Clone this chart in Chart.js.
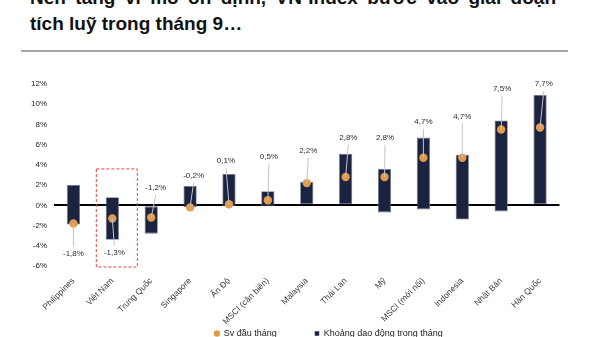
<!DOCTYPE html>
<html>
<head>
<meta charset="utf-8">
<script src="https://cdn.jsdelivr.net/npm/chart.js@4.4.1/dist/chart.umd.min.js"></script>
<style>
  html, body { margin: 0; padding: 0; background: #fff; }
  body { width: 600px; height: 337px; overflow: hidden; position: relative; }
  .title {
    position: absolute; left: 30px;
    font: bold 19px 'Liberation Sans', Arial, sans-serif; line-height: 26px;
    color: #111; white-space: nowrap;
  }
  #t1 { top: -15px; width: 526px; text-align: justify; text-align-last: justify; white-space: normal; }
  #t2 { top: 11px; }
  #rule { position: absolute; left: 21px; top: 50px; width: 547px; height: 2px; background: #a6a6a6; }
  #wrap { position: absolute; left: 0; top: 0; width: 600px; height: 385px; }
</style>
</head>
<body>
<div class="title" id="t1">Nền tảng vĩ mô ổn định, VN-Index bước vào giai đoạn</div>
<div class="title" id="t2">tích luỹ trong tháng 9…</div>
<div id="rule"></div>
<div id="wrap"><canvas id="chart"></canvas></div>
<script>
// categories and values (%)
var countries = ['Philippines', 'Việt Nam', 'Trung Quốc', 'Singapore', 'Ấn Độ', 'MSCI (cận biên)',
  'Malaysia', 'Thái Lan', 'Mỹ', 'MSCI (mới nổi)', 'Indonesia', 'Nhật Bản', 'Hàn Quốc'];
var startOfMonth = [-1.8, -1.3, -1.2, -0.2, 0.1, 0.5, 2.2, 2.8, 2.8, 4.7, 4.7, 7.5, 7.7];
var rangeLow = [-1.9, -3.4, -2.8, -0.2, -0.1, -0.1, 0, 0, -0.7, -0.4, -1.4, -0.6, 0];
var rangeHigh = [2.0, 0.8, 0, 1.9, 3.1, 1.4, 2.3, 5.1, 3.6, 6.7, 5.0, 8.4, 10.9];
var yTicks = [-6, -4, -2, 0, 2, 4, 6, 8, 10, 12];

var FONT = "'Liberation Sans', Arial, sans-serif";

function pct(v) {
  return v.toFixed(1).replace('.', ',') + '%';
}

// value labels with leader lines, and the dashed box round Viet Nam
var notes = {
  id: 'notes',
  afterDatasetsDraw: function(chart, args, opts) {
    var ctx = chart.ctx;
    var y = chart.scales.y, x = chart.scales.x;
    var meta = chart.getDatasetMeta(0);
    ctx.save();
    ctx.font = '8px ' + FONT;
    ctx.textAlign = 'center';
    ctx.textBaseline = 'middle';
    meta.data.forEach(function(pt, i) {
      var ly = y.getPixelForValue(opts.labelAt[i]);
      var lx = pt.x + (opts.labelDx[i] || 0);
      var above = ly < pt.y;
      ctx.strokeStyle = '#c4c4c4';
      ctx.lineWidth = 1;
      ctx.beginPath();
      ctx.moveTo(pt.x, pt.y);
      ctx.lineTo(lx, above ? ly + 7 : ly - 7);
      ctx.stroke();
      ctx.fillStyle = '#2b2b2b';
      ctx.fillText(pct(startOfMonth[i]), lx, ly);
    });
    // highlight box
    var cx = x.getPixelForValue(opts.boxAt);
    ctx.strokeStyle = '#e8453c';
    ctx.setLineDash([3, 2]);
    ctx.strokeRect(cx - 16, y.getPixelForValue(3.6), 41, y.getPixelForValue(-6) - y.getPixelForValue(3.6) + 1);
    ctx.restore();
  }
};

// legend sits lower-right of where chart.js centres it
var legendShift = {
  id: 'legendShift',
  afterLayout: function(chart) {
    var l = chart.legend;
    l.left += 49; l.right += 49;
    l.top -= 35; l.bottom -= 35;
  }
};

var chart = new Chart(document.getElementById('chart'), {
  type: 'bar',
  data: {
    labels: countries,
    datasets: [
      {
        type: 'line',
        label: 'Sv đầu tháng',
        data: startOfMonth,
        showLine: false,
        pointRadius: 4.2,
        pointHoverRadius: 4.2,
        pointBackgroundColor: '#e09c4c',
        pointBorderWidth: 0,
        backgroundColor: '#e09c4c',
        borderColor: '#e09c4c',
        order: 0
      },
      {
        label: 'Khoảng dao động trong tháng',
        data: rangeLow.map(function(v, i) { return [v, rangeHigh[i]]; }),
        backgroundColor: '#1c2340',
        borderColor: '#6e7790',
        borderWidth: 0.8,
        borderSkipped: false,
        categoryPercentage: 1,
        barPercentage: 0.34,
        order: 1
      }
    ]
  },
  options: {
    responsive: true,
    maintainAspectRatio: false,
    animation: false,
    layout: { padding: { left: 0, right: 40.5, top: 84, bottom: 2 } },
    plugins: {
      tooltip: { enabled: false },
      legend: {
        position: 'bottom',
        labels: {
          font: { family: FONT, size: 9 },
          color: '#222',
          usePointStyle: true,
          boxWidth: 4.5,
          boxHeight: 4.5,
          padding: 38,
          generateLabels: function(c) {
            var items = Chart.defaults.plugins.legend.labels.generateLabels(c);
            items.forEach(function(it) {
              it.pointStyle = it.datasetIndex === 0 ? 'circle' : 'rect';
              it.lineWidth = 0;
            });
            return items;
          }
        }
      },
      notes: {
        labelAt: [-4.8, -4.7, 1.7, 2.95, 4.4, 4.8, 5.4, 6.7, 6.7, 8.25, 8.8, 11.5, 12.0],
        labelDx: [0, 2, 4.5, 3.5, -3, 1, 1.5, 2.7, 0.5, 0, 0, 1, 3.7],
        boxAt: 'Việt Nam'
      }
    },
    scales: {
      x: {
        grid: { display: false },
        border: { display: false },
        ticks: {
          minRotation: 45, maxRotation: 45, autoSkip: false,
          font: { family: FONT, size: 8.5 }, color: '#3a3a3a', padding: 2
        },
        afterFit: function(s) { s.height = 60; }
      },
      y: {
        min: -6, max: 12,
        border: { display: false },
        grid: {
          drawTicks: false,
          lineWidth: 2,
          color: function(c) { return c.tick && c.tick.value === 0 ? '#000' : 'rgba(0,0,0,0)'; }
        },
        afterBuildTicks: function(s) { s.ticks = yTicks.map(function(v) { return { value: v }; }); },
        ticks: {
          padding: 7,
          font: { family: FONT, size: 8 },
          color: '#1a1a1a',
          callback: function(v) { return v + '%'; }
        },
        afterFit: function(s) { s.width = 54; }
      }
    }
  },
  plugins: [notes, legendShift]
});
</script>
</body>
</html>
